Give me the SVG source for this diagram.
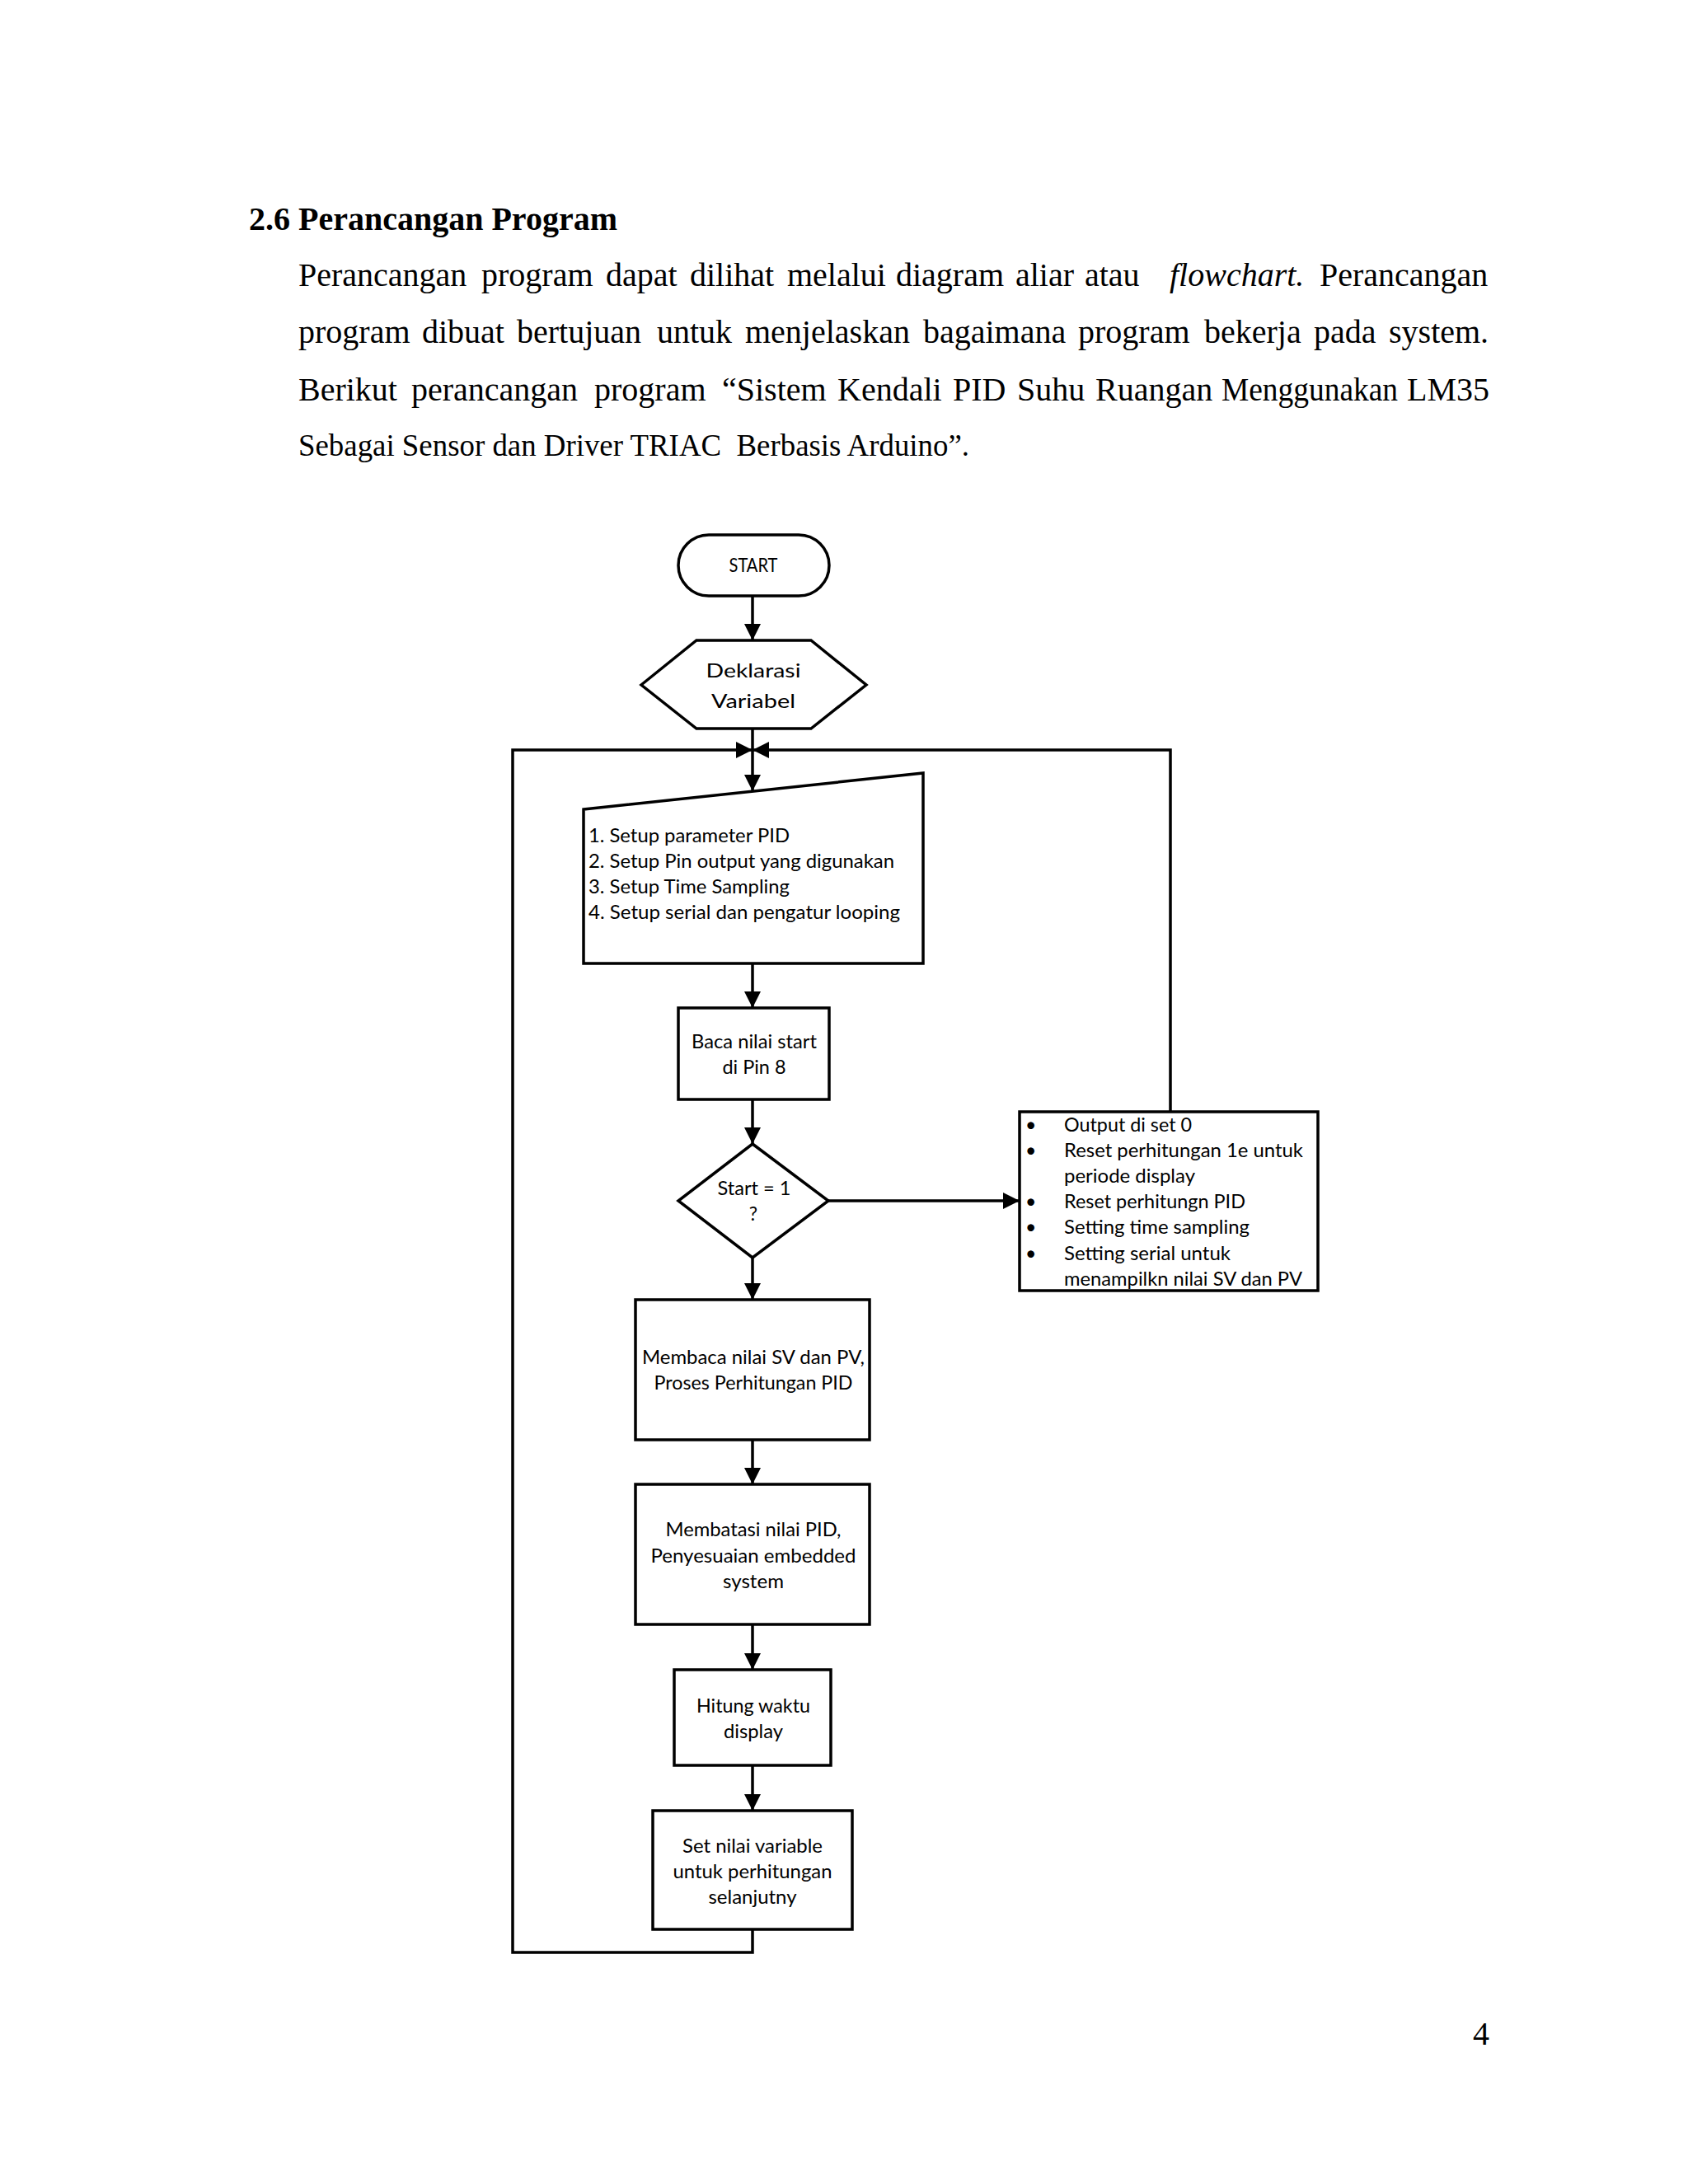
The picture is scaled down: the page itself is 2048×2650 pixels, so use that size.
<svg xmlns="http://www.w3.org/2000/svg" width="2048" height="2650" viewBox="0 0 2048 2650">
<defs>
<style>
.page{font-family:"Liberation Serif","Times New Roman",serif;font-size:40px;fill:#000}
.node{fill:#fff;stroke:#000;stroke-width:3.5;stroke-linejoin:miter}
.lbl{font-family:Lato,"Open Sans","Liberation Sans",sans-serif;font-size:23px;fill:#000}
.c{text-anchor:middle}
.conn{fill:none;stroke:#000;stroke-width:3.5}
</style>
<marker id="ah" viewBox="0 0 10 10" refX="10" refY="5" markerUnits="userSpaceOnUse" markerWidth="20" markerHeight="20" orient="auto">
<path d="M0,0 L10,5 L0,10 z" fill="#000"/>
</marker>
</defs>
<rect width="2048" height="2650" fill="#fff"/>

<g id="page-text" class="page">
<text x="302" y="279" font-weight="bold">2.6 Perancangan Program</text>
<text y="347"><tspan x="362">Perancangan</tspan><tspan x="584">program</tspan><tspan x="735">dapat</tspan><tspan x="837">dilihat</tspan><tspan x="955">melalui</tspan><tspan x="1087">diagram</tspan><tspan x="1232">aliar</tspan><tspan x="1316">atau</tspan><tspan x="1419" font-style="italic">flowchart.</tspan><tspan x="1601">Perancangan</tspan></text>
<text y="416"><tspan x="362">program</tspan><tspan x="512">dibuat</tspan><tspan x="627">bertujuan</tspan><tspan x="797">untuk</tspan><tspan x="904">menjelaskan</tspan><tspan x="1120">bagaimana</tspan><tspan x="1308">program</tspan><tspan x="1461">bekerja</tspan><tspan x="1594">pada</tspan><tspan x="1685">system.</tspan></text>
<text y="486"><tspan x="362">Berikut</tspan><tspan x="499">perancangan</tspan><tspan x="721">program</tspan><tspan x="876">“Sistem</tspan><tspan x="1016">Kendali</tspan><tspan x="1156">PID</tspan><tspan x="1234">Suhu</tspan><tspan x="1329">Ruangan</tspan></text>
<text x="1482" y="486" textLength="214" lengthAdjust="spacingAndGlyphs">Menggunakan</text>
<text x="1707" y="486">LM35</text>
<text x="362" y="553" font-size="38" textLength="814" lengthAdjust="spacingAndGlyphs">Sebagai Sensor dan Driver TRIAC&#160; Berbasis Arduino”.</text>
<text x="1807" y="2481" text-anchor="end">4</text>
</g>

<g id="connectors">
<path class="conn" d="M913,723 V777" marker-end="url(#ah)"/>
<path class="conn" d="M913,884 V960" marker-end="url(#ah)"/>
<path class="conn" d="M913,2341 V2369 H622 V910 H913" marker-end="url(#ah)"/>
<path class="conn" d="M1420,1349 V910 H913" marker-end="url(#ah)"/>
<path class="conn" d="M913,1169 V1223" marker-end="url(#ah)"/>
<path class="conn" d="M913,1334 V1388" marker-end="url(#ah)"/>
<path class="conn" d="M1005,1457 H1237" marker-end="url(#ah)"/>
<path class="conn" d="M913,1526 V1577" marker-end="url(#ah)"/>
<path class="conn" d="M913,1747 V1801" marker-end="url(#ah)"/>
<path class="conn" d="M913,1971 V2026" marker-end="url(#ah)"/>
<path class="conn" d="M913,2142 V2197" marker-end="url(#ah)"/>
</g>

<g id="start">
<rect class="node" x="823" y="649" width="183" height="74" rx="37" ry="37"/>
<text class="lbl c" x="914" y="694" font-size="22" textLength="59" lengthAdjust="spacingAndGlyphs">START</text>
</g>

<g id="deklarasi">
<polygon class="node" points="778,831 845,777 984,777 1051,831 984,884 845,884"/>
<text class="lbl c" x="914" y="822" font-size="32" textLength="115" lengthAdjust="spacingAndGlyphs">Deklarasi</text>
<text class="lbl c" x="914" y="859" font-size="32" textLength="102" lengthAdjust="spacingAndGlyphs">Variabel</text>
</g>

<g id="setup">
<polygon class="node" points="708,982 1120,938 1120,1169 708,1169"/>
<text class="lbl" x="714" y="1022" textLength="244" lengthAdjust="spacingAndGlyphs">1. Setup parameter PID</text>
<text class="lbl" x="714" y="1053" textLength="371" lengthAdjust="spacingAndGlyphs">2. Setup Pin output yang digunakan</text>
<text class="lbl" x="714" y="1084" textLength="244" lengthAdjust="spacingAndGlyphs">3. Setup Time Sampling</text>
<text class="lbl" x="714" y="1115" textLength="378" lengthAdjust="spacingAndGlyphs">4. Setup serial dan pengatur looping</text>
</g>

<g id="baca">
<rect class="node" x="823" y="1223" width="183" height="111"/>
<text class="lbl c" x="915" y="1272" textLength="152" lengthAdjust="spacingAndGlyphs">Baca nilai start</text>
<text class="lbl c" x="915" y="1303" textLength="77" lengthAdjust="spacingAndGlyphs">di Pin 8</text>
</g>

<g id="decision">
<polygon class="node" points="913,1388 1005,1457 913,1526 823,1457"/>
<text class="lbl c" x="915" y="1450" textLength="89" lengthAdjust="spacingAndGlyphs">Start = 1</text>
<text class="lbl c" x="914" y="1481">?</text>
</g>

<g id="reset">
<rect class="node" x="1237" y="1349" width="362" height="217"/>
<g class="lbl">
<text x="1244" y="1373">•</text>
<text x="1244" y="1404">•</text>
<text x="1244" y="1466">•</text>
<text x="1244" y="1497">•</text>
<text x="1244" y="1529">•</text>
<text x="1291" y="1373" textLength="155" lengthAdjust="spacingAndGlyphs">Output di set 0</text>
<text x="1291" y="1404" textLength="290" lengthAdjust="spacingAndGlyphs">Reset perhitungan 1e untuk</text>
<text x="1291" y="1435" textLength="159" lengthAdjust="spacingAndGlyphs">periode display</text>
<text x="1291" y="1466" textLength="220" lengthAdjust="spacingAndGlyphs">Reset perhitungn PID</text>
<text x="1291" y="1497" textLength="225" lengthAdjust="spacingAndGlyphs">Setting time sampling</text>
<text x="1291" y="1529" textLength="202" lengthAdjust="spacingAndGlyphs">Setting serial untuk</text>
<text x="1291" y="1560" textLength="289" lengthAdjust="spacingAndGlyphs">menampilkn nilai SV dan PV</text>
</g>
</g>

<g id="membaca">
<rect class="node" x="771" y="1577" width="284" height="170"/>
<text class="lbl c" x="914" y="1655" textLength="270" lengthAdjust="spacingAndGlyphs">Membaca nilai SV dan PV,</text>
<text class="lbl c" x="914" y="1686" textLength="241" lengthAdjust="spacingAndGlyphs">Proses Perhitungan PID</text>
</g>

<g id="membatasi">
<rect class="node" x="771" y="1801" width="284" height="170"/>
<text class="lbl c" x="914" y="1864" textLength="213" lengthAdjust="spacingAndGlyphs">Membatasi nilai PID,</text>
<text class="lbl c" x="914" y="1896" textLength="249" lengthAdjust="spacingAndGlyphs">Penyesuaian embedded</text>
<text class="lbl c" x="914" y="1927" textLength="74" lengthAdjust="spacingAndGlyphs">system</text>
</g>

<g id="hitung">
<rect class="node" x="818" y="2026" width="190" height="116"/>
<text class="lbl c" x="914" y="2078" textLength="138" lengthAdjust="spacingAndGlyphs">Hitung waktu</text>
<text class="lbl c" x="914" y="2109" textLength="72" lengthAdjust="spacingAndGlyphs">display</text>
</g>

<g id="setnilai">
<rect class="node" x="792" y="2197" width="242" height="144"/>
<text class="lbl c" x="913" y="2248" textLength="170" lengthAdjust="spacingAndGlyphs">Set nilai variable</text>
<text class="lbl c" x="913" y="2279" textLength="193" lengthAdjust="spacingAndGlyphs">untuk perhitungan</text>
<text class="lbl c" x="913" y="2310" textLength="107" lengthAdjust="spacingAndGlyphs">selanjutny</text>
</g>
</svg>
